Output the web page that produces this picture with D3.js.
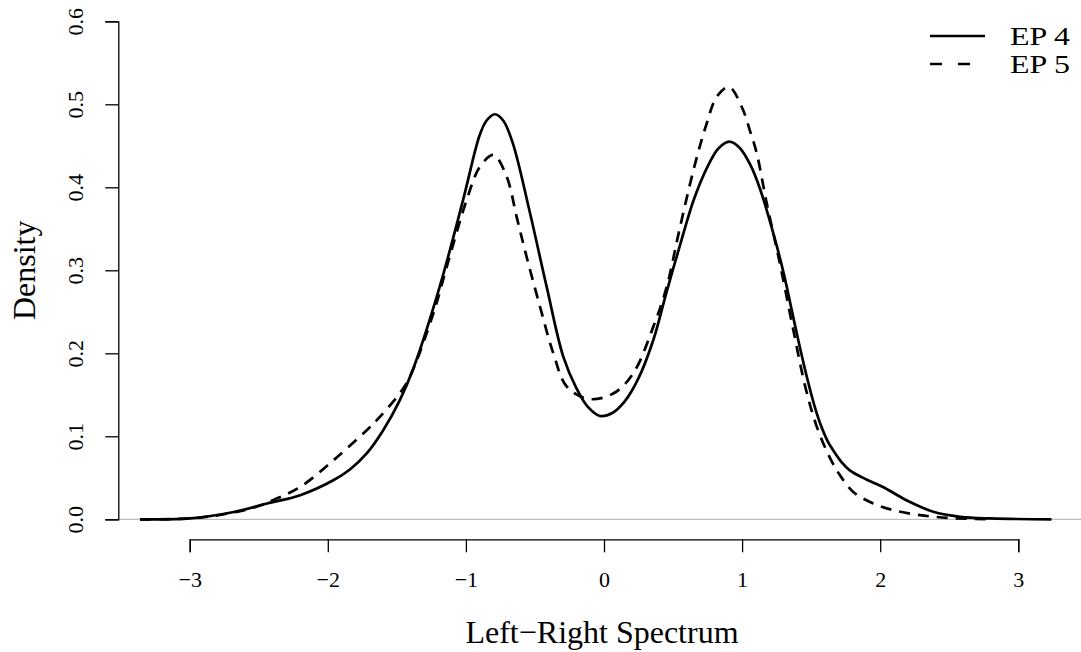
<!DOCTYPE html>
<html>
<head>
<meta charset="utf-8">
<script src="https://cdn.jsdelivr.net/npm/d3@7"></script>
<style>
  body { margin: 0; background: #fff; }
  svg text { font-family: "Liberation Serif", "Times New Roman", serif; fill: #000; }
</style>
</head>
<body>
<svg id="chart"></svg>
<script>
// density estimates
const ep4X = [-3.36, -3.0, -2.68, -2.44, -2.2, -1.96, -1.84, -1.72, -1.6, -1.48, -1.38, -1.19, -1.02, -0.9, -0.85, -0.79, -0.73, -0.66, -0.54, -0.415, -0.295, -0.2, -0.12, -0.03, 0.06, 0.15, 0.25, 0.357, 0.45, 0.55, 0.65, 0.75, 0.83, 0.907, 0.98, 1.06, 1.13, 1.25, 1.31, 1.371, 1.42, 1.468, 1.52, 1.564, 1.62, 1.66, 1.72, 1.78, 1.9, 2.02, 2.19, 2.385, 2.58, 2.8, 3.24];
const ep4Y = [0.0, 0.001, 0.0088, 0.019, 0.029, 0.047, 0.06, 0.079, 0.107, 0.143, 0.182, 0.28, 0.385, 0.463, 0.4805, 0.488, 0.4805, 0.453, 0.372, 0.28, 0.196, 0.158, 0.136, 0.1245, 0.128, 0.142, 0.17, 0.216, 0.272, 0.33, 0.385, 0.425, 0.447, 0.455, 0.448, 0.427, 0.398, 0.33, 0.29, 0.243, 0.206, 0.172, 0.139, 0.116, 0.094, 0.083, 0.069, 0.059, 0.048, 0.039, 0.023, 0.009, 0.003, 0.001, 0.0];
const ep5X = [-3.36, -2.93, -2.56, -2.37, -2.2, -1.96, -1.72, -1.62, -1.48, -1.405, -1.236, -1.139, -0.994, -0.898, -0.8, -0.705, -0.632, -0.56, -0.463, -0.367, -0.27, -0.114, 0.067, 0.212, 0.357, 0.454, 0.545, 0.659, 0.744, 0.816, 0.905, 0.997, 1.057, 1.106, 1.178, 1.274, 1.371, 1.46, 1.54, 1.636, 1.709, 1.805, 1.95, 2.095, 2.288, 2.505, 2.8];
const ep5Y = [0.0, 0.002, 0.013, 0.025, 0.039, 0.071, 0.107, 0.124, 0.1515, 0.172, 0.248, 0.304, 0.385, 0.425, 0.439, 0.413, 0.364, 0.316, 0.256, 0.2, 0.16, 0.145, 0.1515, 0.176, 0.232, 0.28, 0.348, 0.428, 0.477, 0.509, 0.521, 0.497, 0.468, 0.441, 0.381, 0.308, 0.228, 0.158, 0.112, 0.074, 0.053, 0.033, 0.019, 0.011, 0.005, 0.0016, 0.0];

const xTicks = [-3, -2, -1, 0, 1, 2, 3];
const yTicks = [0, 0.1, 0.2, 0.3, 0.4, 0.5, 0.6];
const seriesNames = ["EP 4", "EP 5"];

const width = 1081, height = 652;
const plotLeft = 118.3, plotRight = 1081;

const svg = d3.select("#chart").attr("width", width).attr("height", height);

const x = d3.scaleLinear().domain([-3, 3]).range([189.7, 1018.3]);
const y = d3.scaleLinear().domain([0, 0.6]).range([519.3, 21.3]);

// abline at zero
svg.append("line")
  .attr("x1", plotLeft).attr("x2", plotRight)
  .attr("y1", y(0)).attr("y2", y(0))
  .attr("stroke", "#bebebe").attr("stroke-width", 1.2);

// x axis (detached, R style)
const xAxis = svg.append("g")
  .attr("transform", `translate(0,${539.3})`)
  .call(d3.axisBottom(x).tickValues(xTicks).tickSize(13).tickPadding(19)
    .tickFormat(d => d < 0 ? "\u2212" + Math.abs(d) : d));
xAxis.select(".domain").attr("stroke", "#000").attr("stroke-width", 1.3);
xAxis.selectAll(".tick line").attr("stroke", "#000").attr("stroke-width", 1.3);
xAxis.selectAll(".tick text").attr("font-size", 22).attr("font-family", "Liberation Serif");

// y axis
const yAxis = svg.append("g")
  .attr("transform", `translate(${plotLeft},0)`)
  .call(d3.axisLeft(y).tickValues(yTicks).tickSize(13).tickFormat(d3.format(".1f")));
yAxis.select(".domain").attr("stroke", "#000").attr("stroke-width", 1.3);
yAxis.selectAll(".tick line").attr("stroke", "#000").attr("stroke-width", 1.3);
yAxis.selectAll(".tick text")
  .attr("font-size", 22).attr("font-family", "Liberation Serif")
  .attr("text-anchor", "middle").attr("dy", null)
  .attr("x", null)
  .attr("transform", "translate(-43,0) rotate(-90)")
  .attr("dominant-baseline", "central");

// axis titles
svg.append("text")
  .attr("x", 602).attr("y", 643)
  .attr("text-anchor", "middle").attr("font-size", 32)
  .text("Left\u2212Right Spectrum");
svg.append("text")
  .attr("transform", `translate(35,${y(0.3)}) rotate(-90)`)
  .attr("text-anchor", "middle").attr("font-size", 32)
  .text("Density");

// density curves
const line = d3.line()
  .x(d => x(d[0])).y(d => y(d[1]))
  .curve(d3.curveCatmullRom.alpha(0.5));

const ep4 = ep4X.map((v, i) => [v, ep4Y[i]]);
const ep5 = ep5X.map((v, i) => [v, ep5Y[i]]);

svg.append("path").datum(ep4)
  .attr("d", line).attr("fill", "none")
  .attr("stroke", "#000").attr("stroke-width", 2.7);
svg.append("path").datum(ep5)
  .attr("d", line).attr("fill", "none")
  .attr("stroke", "#000").attr("stroke-width", 2.7)
  .attr("stroke-dasharray", "11,8");

// legend
const legend = svg.append("g");
seriesNames.forEach((name, i) => {
  const ly = 36 + i * 28;
  legend.append("line")
    .attr("x1", 930).attr("x2", 985).attr("y1", ly).attr("y2", ly)
    .attr("stroke", "#000").attr("stroke-width", 2.7)
    .attr("stroke-dasharray", i === 1 ? "12,16" : null);
  legend.append("text")
    .attr("x", 1010).attr("y", ly)
    .attr("dominant-baseline", "central")
    .attr("font-size", 25)
    .attr("textLength", 60).attr("lengthAdjust", "spacingAndGlyphs")
    .text(name);
});
</script>
</body>
</html>
